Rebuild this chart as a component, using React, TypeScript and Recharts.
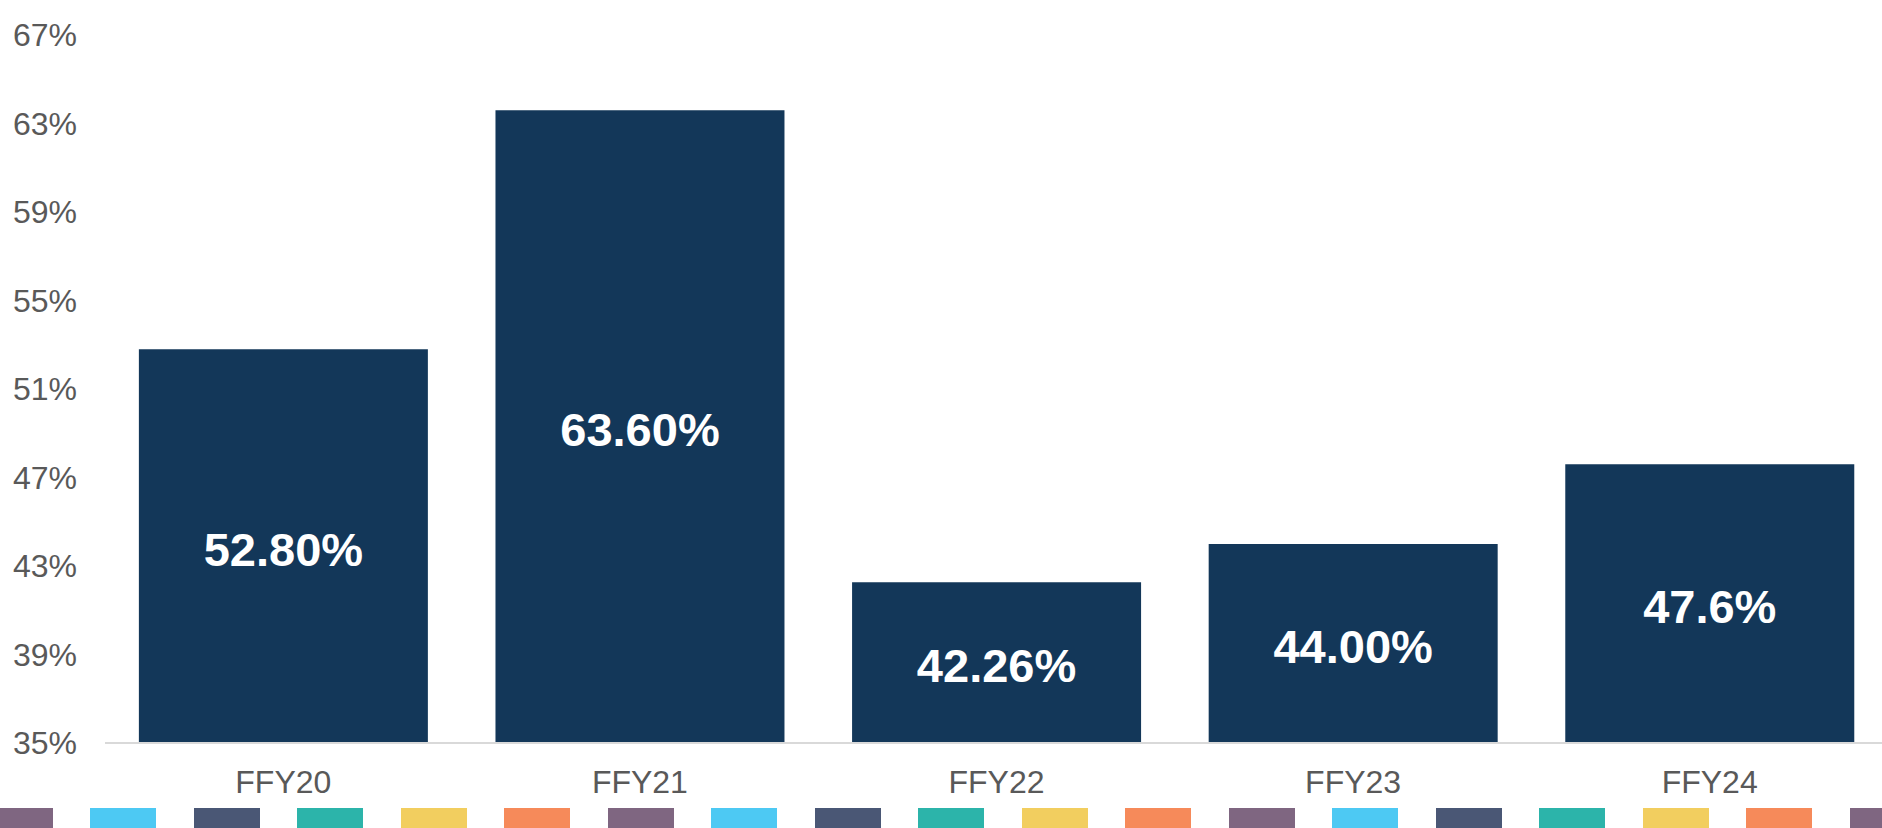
import { BarChart, Bar, XAxis, YAxis, LabelList } from "recharts";

const years = ["FFY20", "FFY21", "FFY22", "FFY23", "FFY24"];
const rates = [52.8, 63.6, 42.26, 44.0, 47.6];
const rateLabels = ["52.80%", "63.60%", "42.26%", "44.00%", "47.6%"];
const yTicks = [35, 39, 43, 47, 51, 55, 59, 63, 67];

// decorative stripe along the bottom edge
const STRIPE_COLORS = ["#7f6681", "#4dc9f3", "#4a5775", "#2cb4aa", "#f2ce5f", "#f68a5a"];

const FONT = '"Liberation Sans", Arial, sans-serif';

export default function App() {
  const data = years.map((year, i) => ({
    year,
    rate: rates[i],
    label: rateLabels[i],
  }));

  const stripe = Array.from({ length: 19 }, (_, i) => i);

  return (
    <div
      style={{
        position: "absolute",
        left: 0,
        top: 0,
        width: 1882,
        height: 828,
        overflow: "hidden",
        background: "#fff",
        fontFamily: FONT,
      }}
    >
      <BarChart
        width={1888}
        height={828}
        data={data}
        margin={{ top: 35, right: 0, bottom: 0, left: 0 }}
        barCategoryGap="9.5%"
      >
        <XAxis
          dataKey="year"
          height={85}
          tickLine={false}
          tickSize={0}
          tickMargin={27}
          axisLine={{ stroke: "#d9d9d9", strokeWidth: 2 }}
          tick={{ fill: "#595959", fontSize: 32, fontFamily: FONT }}
        />
        <YAxis
          width={105}
          domain={[35, 67]}
          ticks={yTicks}
          allowDataOverflow
          axisLine={false}
          tickLine={false}
          tickSize={0}
          tickMargin={28}
          tickFormatter={(v) => `${v}%`}
          tick={{ fill: "#595959", fontSize: 32, fontFamily: FONT }}
        />
        <Bar dataKey="rate" fill="#133759" isAnimationActive={false}>
          <LabelList
            dataKey="label"
            position="center"
            fill="#ffffff"
            fontSize={47}
            fontWeight="bold"
            fontFamily={FONT}
            dy={3}
          />
        </Bar>
      </BarChart>
      {stripe.map((i) => (
        <div
          key={i}
          style={{
            position: "absolute",
            top: 808,
            left: -13.5 + i * 103.5,
            width: 66,
            height: 20,
            background: STRIPE_COLORS[i % STRIPE_COLORS.length],
          }}
        />
      ))}
    </div>
  );
}
